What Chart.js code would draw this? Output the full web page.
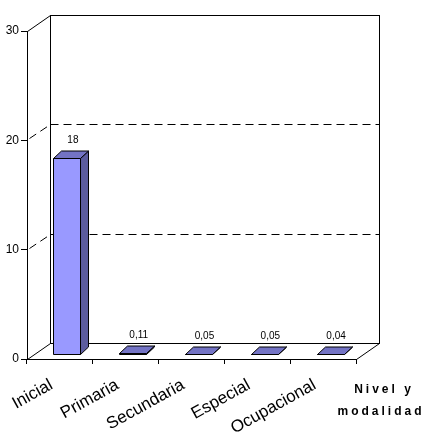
<!DOCTYPE html>
<html>
<head>
<meta charset="utf-8">
<script src="https://cdn.jsdelivr.net/npm/chart.js@4.4.0/dist/chart.umd.min.js"></script>
<style>
  html, body { margin: 0; padding: 0; background: #fff; }
  #wrap { width: 427px; height: 432px; }
</style>
</head>
<body>
<div id="wrap"><canvas id="chart"></canvas></div>
<script>
// --- data ---
const categories = ['Inicial', 'Primaria', 'Secundaria', 'Especial', 'Ocupacional'];
const values = [18, 0.11, 0.05, 0.05, 0.04];
const yTicks = [0, 10, 20, 30];
const gridValues = [10, 20];          // dashed lines on the back wall
const axisTitle = ['Nivel y', 'modalidad'];

// --- 3D look (Excel style) ---
const DX = 22.5, DY = -16;            // depth of the floor / walls
const FRONT = [7, -4.5];              // where the bar front face sits inside the depth
const BAR_D = [8, -7.5];              // depth of each bar
const FRONT_COLOR = '#9999FF', TOP_COLOR = '#7373C4', SIDE_COLOR = '#5C5C9E';
const FONT = '"Liberation Sans", Arial, sans-serif';

const px = v => Math.round(v) + 0.5;

function line(ctx, x1, y1, x2, y2) {
  ctx.beginPath();
  ctx.moveTo(px(x1), px(y1));
  ctx.lineTo(px(x2), px(y2));
  ctx.stroke();
}

function poly(ctx, pts, fill) {
  ctx.beginPath();
  pts.forEach((p, i) => i ? ctx.lineTo(p[0], p[1]) : ctx.moveTo(p[0], p[1]));
  ctx.closePath();
  ctx.fillStyle = fill;
  ctx.fill();
  ctx.stroke();
}

const box3d = {
  id: 'box3d',
  beforeDatasetsDraw(chart) {
    const { ctx, chartArea: a, scales: { y } } = chart;
    ctx.save();
    ctx.strokeStyle = '#000';
    ctx.lineWidth = 1;
    // back wall
    ctx.strokeRect(px(a.left + DX), px(a.top + DY), Math.round(a.right - a.left), Math.round(a.bottom - a.top));
    // side diagonals (top, floor left, floor right)
    line(ctx, a.left, a.top, a.left + DX, a.top + DY);
    line(ctx, a.left, a.bottom, a.left + DX, a.bottom + DY);
    line(ctx, a.right, a.bottom, a.right + DX, a.bottom + DY);
    // dashed gridlines
    ctx.setLineDash([8, 5]);
    gridValues.forEach(v => {
      const yy = y.getPixelForValue(v);
      line(ctx, a.left + DX, yy + DY, a.right + DX, yy + DY);
      line(ctx, a.left + 2, yy - 2, a.left + DX, yy + DY);
    });
    ctx.restore();
  },
  afterDatasetsDraw(chart) {
    const { ctx } = chart;
    const meta = chart.getDatasetMeta(0);
    ctx.save();
    ctx.strokeStyle = '#000';
    ctx.lineWidth = 1;
    meta.data.forEach((bar, i) => {
      const w = bar.width;
      const l = Math.round(bar.x - w / 2 + FRONT[0]) + 0.5;
      const r = Math.round(bar.x + w / 2 + FRONT[0]) + 0.5;
      const t = Math.round(bar.y + FRONT[1]) + 0.5;
      const b = Math.round(bar.base + FRONT[1]) + 0.5;
      const [bx, by] = BAR_D;
      // side face
      poly(ctx, [[r, t], [r + bx, t + by], [r + bx, b + by], [r, b]], SIDE_COLOR);
      // front face
      poly(ctx, [[l, t], [r, t], [r, b], [l, b]], FRONT_COLOR);
      // top face
      poly(ctx, [[l, t], [r, t], [r + bx, t + by], [l + bx, t + by]], TOP_COLOR);
      // value label
      ctx.fillStyle = '#000';
      ctx.font = '10px ' + FONT;
      ctx.textAlign = 'center';
      ctx.textBaseline = 'alphabetic';
      const txt = String(values[i]).replace('.', ',');
      ctx.fillText(txt, bar.x + FRONT[0] + bx / 2 + 2, t + by - 8);
    });
    ctx.restore();
  },
  afterDraw(chart) {
    const { ctx, chartArea: a, scales: { x } } = chart;
    ctx.save();
    ctx.fillStyle = '#000';
    // slanted category labels
    ctx.font = '17px ' + FONT;
    ctx.textAlign = 'right';
    ctx.textBaseline = 'alphabetic';
    categories.forEach((c, i) => {
      ctx.save();
      ctx.translate(x.getPixelForValue(i) - 6, a.bottom + 29);
      ctx.rotate(-29 * Math.PI / 180);
      ctx.fillText(c, 0, 0);
      ctx.restore();
    });
    // axis title
    ctx.font = 'bold 12px ' + FONT;
    ctx.letterSpacing = '3px';
    ctx.textAlign = 'center';
    ctx.fillText(axisTitle[0], 384, 393);
    ctx.fillText(axisTitle[1], 381, 415);
    ctx.restore();
  }
};

new Chart(document.getElementById('chart'), {
  type: 'bar',
  data: {
    labels: categories,
    datasets: [{
      data: values,
      backgroundColor: 'rgba(0,0,0,0)',
      borderWidth: 0,
      barPercentage: 0.41,
      categoryPercentage: 1
    }]
  },
  options: {
    responsive: true,
    maintainAspectRatio: false,
    animation: false,
    layout: { padding: { top: 31, right: 71, left: 0, bottom: 0 } },
    plugins: { legend: { display: false }, tooltip: { enabled: false } },
    scales: {
      x: {
        grid: { display: true, drawOnChartArea: false, offset: true, tickLength: 5, color: '#000' },
        border: { display: true, color: '#000' },
        ticks: { display: false },
        afterFit(scale) {
          scale.height = 73;
          scale.paddingLeft = 0;
          scale.paddingRight = 0;
        }
      },
      y: {
        min: 0,
        max: 30,
        afterBuildTicks(scale) { scale.ticks = yTicks.map(v => ({ value: v })); },
        grid: { display: true, drawOnChartArea: false, tickLength: 6, color: '#000' },
        border: { display: true, color: '#000' },
        ticks: {
          padding: 2,
          color: '#000',
          font: { family: FONT, size: 12 }
        },
        afterFit(scale) { scale.width = 27; }
      }
    }
  },
  plugins: [box3d]
});
</script>
</body>
</html>
